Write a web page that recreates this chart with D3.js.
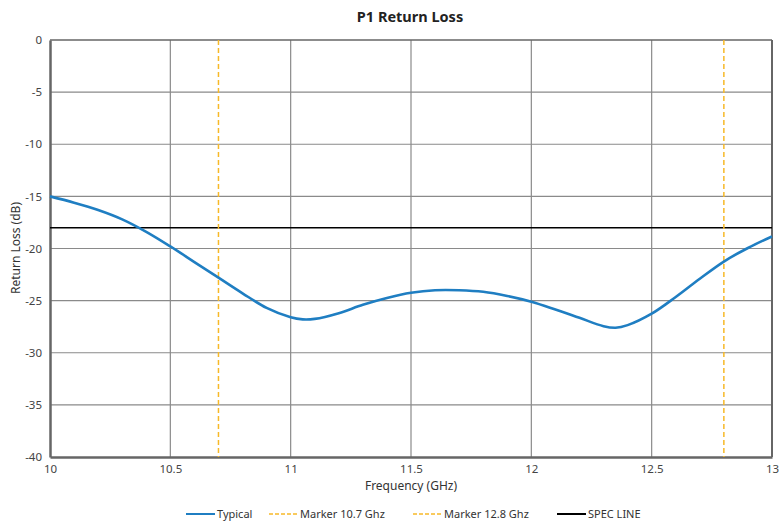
<!DOCTYPE html>
<html>
<head>
<meta charset="utf-8">
<script src="https://cdn.jsdelivr.net/npm/d3@7"></script>
<style>
  body { margin: 0; background: #fff; }
  text { font-family: "Noto Sans", "Open Sans", sans-serif; }
</style>
</head>
<body>
<svg id="chart" width="779" height="522"></svg>
<script>
// measured return loss (dB) vs frequency (GHz)
const freqs = [10.0, 10.1, 10.2, 10.3, 10.4, 10.5, 10.6, 10.7, 10.8, 10.9, 11.0, 11.05, 11.1, 11.2, 11.3, 11.4, 11.5, 11.6, 11.7, 11.8, 11.9, 12.0, 12.1, 12.2, 12.3, 12.35, 12.4, 12.5, 12.6, 12.7, 12.8, 12.9, 13.0];
const typical = [-15.0, -15.6, -16.3, -17.2, -18.4, -19.8, -21.3, -22.8, -24.3, -25.7, -26.6, -26.8, -26.75, -26.2, -25.4, -24.75, -24.25, -24.0, -24.0, -24.15, -24.55, -25.1, -25.85, -26.65, -27.45, -27.6, -27.35, -26.25, -24.65, -22.9, -21.25, -19.95, -18.85];
const markers = [10.7, 12.8];
const specLevel = -18;
const xTicks = [10, 10.5, 11, 11.5, 12, 12.5, 13];
const yTicks = [0, -5, -10, -15, -20, -25, -30, -35, -40];
const legendNames = ["Typical", "Marker 10.7 Ghz", "Marker 12.8 Ghz", "SPEC LINE"];

const blue = "#1f7ec2", yellow = "#f7b928", gridC = "#8a8a8a", axisC = "#666";

const svg = d3.select("#chart");
const plotL = 50, plotR = 772, plotT = 40, plotB = 457;

var x = d3.scaleLinear().domain([10, 13]).range([plotL, plotR]);
var y = d3.scaleLinear().domain([-40, 0]).range([plotB, plotT]);

// grid
svg.append("g")
  .selectAll("line").data(xTicks.slice(1, -1)).enter().append("line")
    .attr("x1", d => x(d)).attr("x2", d => x(d))
    .attr("y1", plotT).attr("y2", plotB)
    .attr("stroke", gridC).attr("stroke-width", 1.2);
svg.append("g")
  .selectAll("line").data(yTicks.slice(1, -1)).enter().append("line")
    .attr("x1", plotL).attr("x2", plotR)
    .attr("y1", d => y(d)).attr("y2", d => y(d))
    .attr("stroke", gridC).attr("stroke-width", 1.2);

// frame
svg.append("line").attr("x1", plotL).attr("x2", plotR).attr("y1", plotT).attr("y2", plotT)
  .attr("stroke", axisC).attr("stroke-width", 1.5);
svg.append("line").attr("x1", plotR).attr("x2", plotR).attr("y1", plotT).attr("y2", plotB)
  .attr("stroke", axisC).attr("stroke-width", 2);

// axes
var xAxis = svg.append("g")
  .attr("transform", "translate(0," + plotB + ")")
  .call(d3.axisBottom(x).tickValues(xTicks).tickSize(0).tickPadding(6).tickFormat(d3.format("")));
var yAxis = svg.append("g")
  .attr("transform", "translate(" + plotL + ",0)")
  .call(d3.axisLeft(y).tickValues(yTicks).tickSize(0).tickPadding(8).tickFormat(d => String(d)));
[xAxis, yAxis].forEach(a => {
  a.select(".domain").attr("stroke", axisC).attr("stroke-width", 2.5);
  a.selectAll("text").attr("fill", "#444").style("font-size", "11.5px");
});
xAxis.selectAll(".tick text").attr("dy", "0.9em");

// spec line
svg.append("line")
  .attr("x1", plotL).attr("x2", plotR)
  .attr("y1", y(specLevel)).attr("y2", y(specLevel))
  .attr("stroke", "#000").attr("stroke-width", 1.5);

// marker lines
svg.selectAll("line.marker").data(markers).enter().append("line")
  .attr("class", "marker")
  .attr("x1", d => x(d)).attr("x2", d => x(d))
  .attr("y1", plotT).attr("y2", plotB)
  .attr("stroke", yellow).attr("stroke-width", 1.5)
  .attr("stroke-dasharray", "5,3");

// typical curve
var line = d3.line().x((d, i) => x(freqs[i])).y(d => y(d)).curve(d3.curveCatmullRom.alpha(0.5));
svg.append("path")
  .datum(typical)
  .attr("d", line)
  .attr("fill", "none")
  .attr("stroke", blue)
  .attr("stroke-width", 2.6);

// titles
svg.append("text").attr("x", 410).attr("y", 22).attr("text-anchor", "middle")
  .style("font-size", "14.5px").style("font-weight", "bold").attr("fill", "#222")
  .text("P1 Return Loss");
svg.append("text").attr("x", 411).attr("y", 490).attr("text-anchor", "middle")
  .style("font-size", "12px").attr("fill", "#333")
  .text("Frequency (GHz)");
svg.append("text").attr("transform", "translate(20,248) rotate(-90)").attr("text-anchor", "middle")
  .style("font-size", "12px").attr("fill", "#333")
  .text("Return Loss (dB)");

// legend
var legendX = [186, 269, 413, 557];
var legendStyle = [
  { c: blue, dash: null, w: 2 },
  { c: yellow, dash: "4,2", w: 1.5 },
  { c: yellow, dash: "4,2", w: 1.5 },
  { c: "#000", dash: null, w: 2 }
];
var lg = svg.append("g").attr("transform", "translate(0,514)");
legendNames.forEach((name, i) => {
  lg.append("line").attr("x1", legendX[i]).attr("x2", legendX[i] + 29)
    .attr("y1", 0).attr("y2", 0)
    .attr("stroke", legendStyle[i].c).attr("stroke-width", legendStyle[i].w)
    .attr("stroke-dasharray", legendStyle[i].dash);
  lg.append("text").attr("x", legendX[i] + 31).attr("y", 4)
    .style("font-size", "11px").attr("fill", "#333").text(name);
});
</script>
</body>
</html>
